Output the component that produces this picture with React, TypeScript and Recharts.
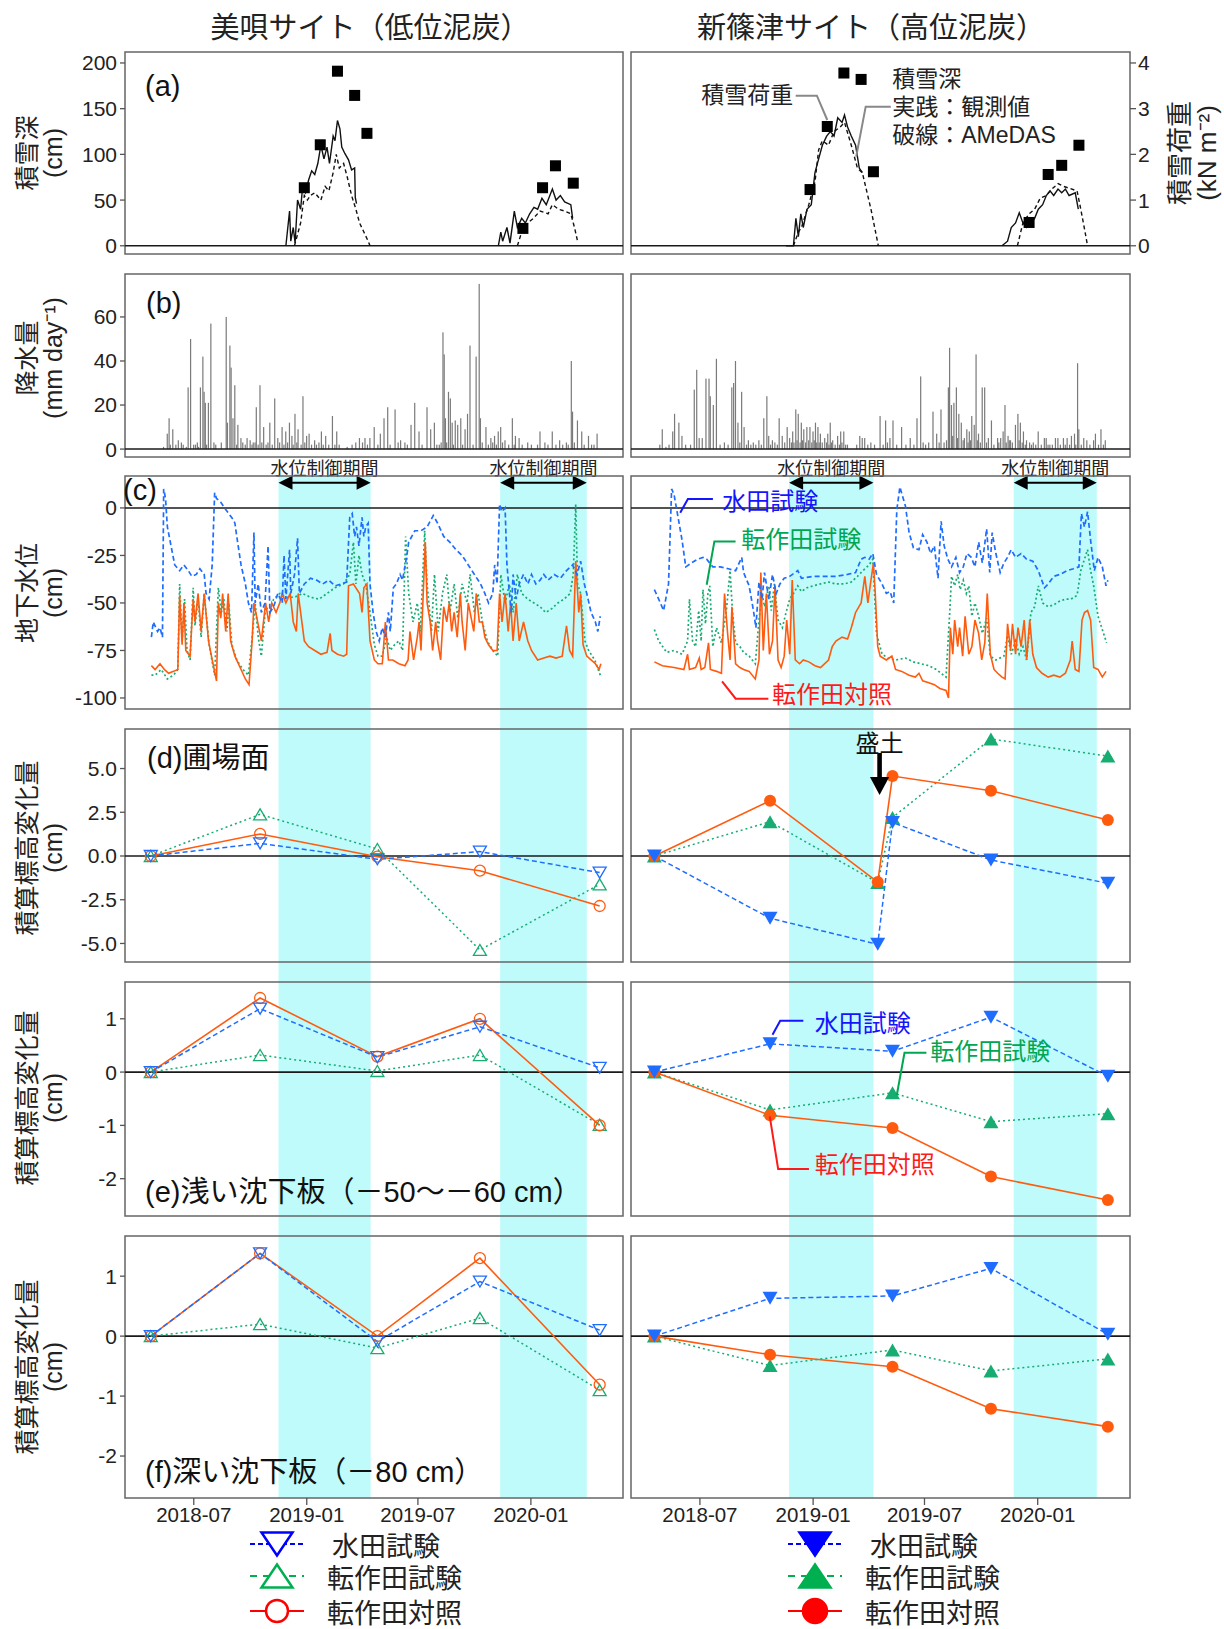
import React from 'react';
import { ComposedChart, Line, Bar, Scatter, XAxis, YAxis, ReferenceArea, ReferenceLine, ReferenceDot } from 'recharts';

const FONT = "'Liberation Sans', 'Noto Sans CJK JP', sans-serif";
const JP = "'Noto Sans CJK JP', sans-serif";

const BLUE = '#1f6dff';
const GREEN = '#17ad72';
const ORANGE = '#ff5b0f';
const CYAN = '#bffbfb';

// x axis = days since 2018-07-01
const X_DOMAIN: [number, number] = [-112, 699];
const DATE_TICKS = [0, 184, 365, 549];
const DATE_LABELS = ['2018-07', '2019-01', '2019-07', '2020-01'];
// the tick marks of (a)(b) sit a little to the right in the original figure
const TOP_TICKS = [43, 221, 399, 576];

// water level control periods
const CONTROL_L: [number, number][] = [[138, 288], [499, 640]];
const CONTROL_R: [number, number][] = [[145, 282], [510, 645]];

// (a) snow depth (cm): observed and AMeDAS; snow load (kN m-2)
const SNOW_L_OBS: [number, number | null][] = [[150,0],[156,38],[158,5],[162,20],[165,3],[169,50],[174,40],[177,63],[182,58],[187,72],[192,82],[197,78],[202,90],[207,110],[212,95],[217,108],[221,90],[227,120],[230,115],[234,137],[238,128],[241,108],[246,101],[252,94],[257,83],[262,85],[263,53],[265,46],[266,null],[496,0],[500,15],[503,5],[510,20],[515,3],[522,38],[527,20],[534,30],[540,25],[547,35],[554,42],[560,40],[567,52],[574,45],[584,62],[590,50],[597,55],[604,48],[614,45],[617,30]];
const SNOW_L_AMEDAS: [number, number | null][] = [[164,0],[174,25],[180,55],[185,50],[190,55],[197,58],[207,50],[214,65],[220,60],[227,80],[232,100],[237,85],[244,90],[250,75],[257,55],[264,40],[270,25],[277,15],[284,5],[287,0],[288,null],[527,0],[534,15],[544,25],[553,30],[564,38],[577,35],[584,45],[594,40],[604,38],[614,35],[620,20],[625,5]];
const LOAD_L: [number, number][] = [[180,1.27],[206,2.21],[234,3.82],[262,3.29],[282,2.46],[536,0.38],[568,1.27],[589,1.75],[618,1.37]];

const SNOW_R_OBS: [number, number | null][] = [[140,0],[152,0],[156,30],[160,10],[164,35],[168,20],[174,40],[181,45],[187,80],[193,95],[199,110],[206,120],[212,125],[218,120],[224,140],[231,135],[235,143],[240,130],[246,120],[253,110],[259,85],[264,80],[265,null],[491,0],[500,5],[506,20],[513,25],[519,36],[525,25],[531,20],[538,25],[544,30],[550,40],[557,45],[563,55],[569,60],[575,55],[582,62],[588,58],[594,62],[600,55],[610,58],[615,40]];
const SNOW_R_AMEDAS: [number, number | null][] = [[152,0],[160,15],[165,20],[177,45],[187,70],[193,105],[199,115],[209,110],[218,125],[228,130],[235,135],[246,110],[256,85],[264,80],[271,60],[278,40],[284,20],[290,0],[291,null],[516,0],[525,25],[535,35],[544,40],[553,52],[563,55],[572,62],[582,68],[591,65],[600,63],[613,60],[619,40],[626,15],[630,0]];
const LOAD_R: [number, number][] = [[179,1.23],[207,2.61],[234,3.78],[262,3.64],[282,1.62],[535,0.51],[566,1.56],[588,1.76],[616,2.2]];

// (b) daily precipitation (mm/day)
const PRECIP_L: [number, number][] = [[-49,1],[-43,7],[-40,14],[-38,2],[-34,9],[-29,2],[-25,4],[-20,3],[-17,2],[-12,1],[-9,28],[-5,50],[0,2],[3,2],[6,3],[8,1],[11,28],[15,42],[17,26],[19,21],[21,2],[24,21],[28,57],[33,3],[36,2],[45,3],[53,60],[55,12],[59,47],[61,37],[64,14],[67,29],[70,2],[72,11],[77,5],[80,3],[84,2],[87,5],[92,4],[95,2],[97,3],[100,3],[102,19],[105,2],[108,29],[111,3],[114,10],[118,2],[121,3],[124,12],[128,2],[132,23],[137,5],[140,3],[144,10],[147,2],[150,8],[153,3],[156,12],[160,6],[162,2],[165,16],[168,3],[170,9],[175,2],[178,24],[181,3],[184,6],[188,7],[192,2],[197,4],[200,2],[204,3],[208,8],[211,2],[215,6],[220,2],[226,15],[230,2],[233,8],[237,2],[250,1],[258,2],[264,3],[270,5],[275,3],[279,5],[283,2],[287,5],[294,10],[300,2],[304,7],[310,14],[316,19],[320,2],[328,18],[333,3],[337,4],[344,3],[348,2],[354,11],[360,21],[367,8],[372,2],[380,19],[386,9],[392,12],[396,2],[400,2],[403,3],[406,53],[408,43],[410,14],[412,3],[415,26],[418,23],[421,12],[423,2],[426,13],[430,11],[435,14],[438,2],[442,9],[446,16],[450,47],[455,2],[460,42],[465,75],[467,14],[470,3],[476,10],[480,2],[484,5],[487,3],[490,6],[493,2],[496,8],[500,10],[503,3],[507,4],[513,2],[519,14],[522,2],[524,6],[530,5],[535,2],[544,3],[550,2],[560,2],[564,8],[572,3],[577,2],[584,8],[590,2],[596,4],[601,2],[607,3],[610,2],[615,40],[617,17],[620,3],[625,13],[632,8],[636,2],[643,6],[648,2],[652,2],[657,7]];
const PRECIP_R: [number, number][] = [[-65,2],[-61,9],[-55,1],[-50,2],[-44,8],[-41,16],[-34,12],[-29,6],[-23,2],[-15,2],[-9,27],[-5,36],[-1,5],[4,5],[10,32],[15,32],[17,24],[22,20],[27,41],[33,2],[40,3],[46,2],[52,28],[55,30],[58,40],[62,12],[65,3],[68,26],[72,10],[76,2],[79,4],[83,2],[87,3],[91,2],[96,4],[100,2],[104,14],[109,24],[112,6],[115,2],[118,4],[122,3],[126,2],[129,14],[134,6],[138,3],[142,10],[146,5],[149,3],[151,8],[153,3],[156,18],[158,4],[160,16],[163,3],[165,12],[167,4],[169,9],[172,3],[174,10],[177,4],[179,10],[182,3],[184,8],[186,4],[188,12],[190,3],[192,10],[194,3],[196,7],[199,3],[203,5],[206,3],[208,7],[210,2],[212,12],[214,3],[216,4],[220,2],[224,6],[227,2],[229,8],[231,3],[234,8],[237,2],[240,2],[255,2],[260,6],[264,5],[268,5],[273,2],[278,3],[284,2],[293,15],[298,2],[302,13],[305,3],[309,5],[314,13],[320,2],[328,10],[335,2],[342,5],[348,2],[353,14],[359,33],[363,3],[367,2],[372,3],[379,17],[385,7],[389,3],[392,18],[397,3],[401,4],[404,28],[406,46],[409,20],[411,6],[413,21],[417,28],[419,5],[421,16],[425,12],[428,4],[430,5],[434,9],[436,3],[438,8],[440,4],[442,15],[446,11],[449,43],[451,4],[453,7],[456,3],[459,28],[463,28],[466,3],[469,5],[474,13],[478,2],[484,5],[486,3],[489,5],[493,8],[496,20],[498,3],[501,6],[503,4],[505,4],[508,3],[513,11],[517,16],[519,4],[521,12],[524,3],[526,8],[529,2],[531,4],[536,3],[539,2],[542,3],[546,2],[550,8],[555,2],[560,5],[563,5],[566,2],[569,2],[573,2],[578,5],[582,5],[586,2],[591,5],[594,2],[597,5],[601,2],[604,6],[609,7],[611,2],[614,39],[616,9],[620,2],[624,5],[629,4],[634,2],[640,4],[643,7],[648,2],[652,9],[656,2],[659,4]];

// (c) groundwater level (cm)
const GW_L_PADDY: [number, number][] = [[-69,-68],[-66,-60],[-59,-65],[-55,-63],[-51,-68],[-49,10],[-46,5],[-43,-10],[-37,-20],[-31,-30],[-23,-33],[-16,-30],[-9,-33],[-3,-36],[4,-35],[10,-32],[17,-35],[20,-45],[25,-48],[30,-30],[34,8],[37,5],[44,3],[50,0],[57,-3],[64,-6],[67,-8],[70,-15],[77,-30],[84,-40],[89,-50],[94,-55],[98,-13],[100,-50],[105,-40],[110,-55],[116,-50],[121,-20],[124,-55],[130,-52],[137,-45],[144,-50],[147,-25],[150,-48],[156,-22],[158,-45],[164,-35],[169,-16],[172,-45],[180,-40],[190,-37],[200,-38],[210,-40],[220,-38],[230,-41],[240,-40],[249,-39],[254,-5],[258,-3],[262,-15],[265,-10],[269,-20],[274,-5],[277,-15],[280,-10],[284,-8],[287,-40],[292,-55],[297,-65],[302,-70],[307,-63],[312,-68],[317,-55],[320,-65],[325,-42],[330,-40],[336,-35],[340,-38],[347,-25],[350,-18],[360,-12],[370,-12],[380,-10],[390,-4],[397,-8],[407,-15],[417,-18],[427,-22],[437,-25],[447,-30],[457,-35],[467,-40],[474,-45],[480,-50],[487,-45],[490,-30],[494,-40],[498,2],[502,-2],[507,0],[510,-30],[514,-45],[517,-55],[520,-35],[525,-48],[530,-40],[537,-35],[544,-40],[550,-35],[557,-40],[564,-38],[570,-35],[577,-38],[587,-35],[597,-37],[607,-33],[617,-30],[624,-35],[630,-28],[636,-40],[640,-45],[647,-55],[654,-60],[658,-65],[662,-57]];
const GW_L_CONV: [number, number][] = [[-69,-88],[-63,-88],[-53,-85],[-43,-90],[-33,-88],[-26,-85],[-23,-40],[-19,-70],[-15,-48],[-11,-75],[-6,-80],[-1,-42],[2,-62],[7,-48],[12,-68],[17,-45],[25,-72],[34,-88],[40,-42],[45,-55],[49,-48],[54,-65],[57,-50],[62,-72],[70,-80],[80,-85],[89,-88],[96,-65],[100,-50],[105,-68],[110,-78],[117,-52],[124,-55],[130,-48],[140,-45],[150,-47],[164,-47],[177,-45],[190,-47],[204,-48],[217,-45],[230,-42],[244,-40],[254,-35],[260,-18],[264,-40],[269,-25],[274,-35],[280,-40],[287,-55],[294,-72],[300,-78],[307,-78],[314,-68],[320,-75],[327,-72],[334,-70],[340,-75],[345,-15],[350,-45],[357,-60],[364,-50],[369,-65],[376,-12],[380,-40],[387,-65],[392,-35],[398,-65],[405,-45],[412,-35],[417,-55],[424,-40],[430,-58],[437,-40],[445,-50],[450,-35],[457,-55],[463,-45],[470,-60],[478,-70],[487,-75],[495,-78],[500,-35],[507,-50],[514,-40],[520,-55],[527,-35],[534,-45],[544,-48],[554,-50],[564,-52],[573,-55],[583,-53],[593,-50],[603,-48],[613,-45],[618,-35],[622,2],[625,-40],[630,-45],[637,-70],[643,-75],[653,-80],[662,-88]];
const GW_L_CTRL: [number, number][] = [[-69,-83],[-63,-85],[-55,-82],[-48,-85],[-41,-87],[-33,-86],[-26,-85],[-23,-46],[-19,-72],[-16,-50],[-13,-75],[-6,-78],[-1,-48],[2,-60],[7,-45],[12,-65],[17,-45],[24,-70],[30,-80],[37,-91],[40,-50],[44,-58],[47,-45],[52,-65],[56,-45],[60,-70],[67,-78],[77,-85],[84,-90],[90,-93],[95,-70],[98,-50],[104,-60],[110,-70],[117,-50],[122,-60],[127,-50],[134,-55],[140,-50],[144,-45],[150,-50],[157,-45],[162,-60],[167,-65],[170,-45],[176,-60],[180,-70],[187,-73],[197,-75],[207,-77],[217,-76],[222,-66],[225,-75],[234,-77],[244,-78],[249,-77],[252,-41],[260,-40],[270,-45],[274,-55],[277,-42],[282,-40],[287,-70],[294,-80],[300,-82],[307,-82],[312,-60],[317,-80],[324,-80],[334,-82],[344,-83],[349,-80],[352,-65],[358,-80],[364,-68],[367,-60],[370,-75],[377,-18],[380,-50],[385,-60],[389,-75],[394,-60],[397,-70],[402,-80],[407,-52],[412,-60],[416,-50],[420,-65],[424,-55],[429,-68],[434,-45],[437,-60],[442,-75],[447,-50],[450,-55],[456,-65],[460,-45],[465,-60],[470,-60],[474,-68],[480,-72],[487,-75],[494,-75],[498,-45],[502,-60],[507,-45],[512,-65],[516,-50],[520,-70],[525,-50],[530,-70],[537,-60],[544,-70],[550,-75],[560,-80],[570,-79],[580,-78],[590,-79],[600,-78],[607,-62],[612,-75],[617,-78],[622,-28],[627,-55],[630,-45],[634,-72],[640,-78],[647,-80],[654,-82],[660,-85],[663,-82]];

const GW_R_PADDY: [number, number][] = [[-74,-43],[-67,-48],[-59,-54],[-51,-40],[-46,10],[-42,7],[-36,-4],[-29,-17],[-23,-31],[-14,-29],[-4,-27],[5,-26],[11,-27],[21,-31],[33,-31],[46,-32],[58,-33],[68,-26],[71,-34],[80,-41],[87,-54],[91,-63],[96,-39],[101,-48],[105,-34],[112,-48],[118,-35],[124,-45],[130,-40],[137,-37],[146,-36],[159,-33],[165,-37],[184,-36],[203,-36],[221,-36],[240,-35],[253,-34],[262,-27],[268,-26],[275,-27],[281,-24],[287,-35],[296,-40],[303,-45],[309,-44],[315,-50],[320,-1],[325,11],[334,1],[340,-13],[347,-21],[356,-22],[362,-14],[369,-18],[375,-24],[381,-20],[387,-37],[392,-7],[397,-20],[403,-27],[409,-31],[416,-26],[422,-34],[428,-31],[434,-24],[441,-26],[447,-31],[453,-18],[459,-29],[466,-11],[471,-34],[475,-13],[481,-24],[488,-34],[494,-29],[500,-26],[506,-22],[513,-26],[522,-24],[531,-27],[541,-28],[550,-33],[560,-42],[566,-40],[575,-36],[585,-35],[597,-33],[607,-32],[616,-31],[620,-3],[625,-10],[630,-2],[635,-17],[641,-33],[647,-26],[654,-31],[660,-41],[663,-38]];
const GW_R_CONV: [number, number][] = [[-74,-64],[-67,-70],[-54,-76],[-42,-75],[-29,-77],[-20,-70],[-17,-48],[-12,-70],[-7,-73],[-2,-54],[2,-70],[5,-43],[9,-61],[13,-45],[16,-41],[21,-73],[27,-63],[35,-71],[43,-54],[49,-33],[53,-55],[58,-71],[65,-73],[71,-76],[80,-78],[90,-82],[96,-59],[101,-45],[105,-52],[112,-41],[116,-54],[121,-40],[127,-59],[134,-63],[140,-55],[146,-48],[152,-45],[159,-41],[165,-44],[174,-42],[184,-41],[196,-40],[209,-39],[221,-40],[234,-40],[246,-39],[256,-36],[265,-33],[275,-30],[281,-27],[287,-66],[296,-77],[306,-79],[318,-80],[334,-79],[347,-81],[359,-82],[372,-83],[384,-85],[400,-89],[406,-55],[409,-36],[414,-41],[419,-35],[423,-43],[428,-38],[433,-45],[437,-41],[442,-57],[447,-50],[453,-57],[459,-66],[466,-58],[472,-78],[481,-80],[494,-78],[500,-67],[506,-77],[513,-70],[519,-77],[525,-73],[531,-80],[538,-55],[544,-52],[550,-41],[557,-50],[566,-52],[575,-51],[585,-49],[594,-48],[603,-48],[613,-46],[619,-33],[625,-27],[630,-22],[635,-33],[640,-41],[647,-57],[654,-64],[661,-71]];
const GW_R_CTRL: [number, number][] = [[-74,-81],[-61,-83],[-42,-84],[-26,-85],[-20,-77],[-17,-85],[-7,-84],[-1,-79],[2,-85],[8,-84],[14,-71],[17,-85],[27,-86],[35,-87],[40,-45],[45,-66],[49,-80],[52,-52],[58,-82],[65,-84],[71,-85],[80,-86],[90,-90],[96,-80],[99,-34],[103,-75],[108,-45],[113,-77],[118,-70],[122,-41],[127,-80],[132,-84],[137,-78],[141,-59],[146,-77],[150,-38],[155,-80],[162,-82],[168,-80],[177,-81],[187,-83],[196,-84],[209,-80],[215,-73],[221,-70],[231,-68],[240,-69],[246,-63],[253,-55],[262,-50],[268,-36],[273,-50],[278,-38],[282,-29],[285,-45],[289,-73],[293,-78],[303,-80],[312,-78],[318,-85],[328,-86],[340,-88],[350,-89],[356,-87],[362,-91],[372,-92],[381,-93],[390,-95],[400,-96],[404,-100],[407,-63],[411,-77],[414,-59],[419,-73],[422,-63],[427,-78],[431,-57],[437,-77],[442,-73],[447,-59],[453,-66],[458,-80],[463,-71],[467,-45],[472,-77],[478,-85],[484,-87],[491,-89],[496,-90],[500,-61],[505,-75],[508,-61],[513,-77],[517,-63],[522,-73],[527,-59],[531,-80],[536,-59],[541,-77],[547,-84],[556,-87],[566,-89],[575,-88],[585,-89],[594,-87],[602,-80],[605,-70],[610,-85],[616,-86],[621,-59],[625,-55],[630,-54],[635,-59],[640,-84],[647,-85],[654,-89],[660,-86]];

// (d)(e)(f) survey dates and cumulative elevation change (cm)
const SURVEY_L = [-70, 108, 299, 466, 661];
const SURVEY_R = [-74, 114, 313, 473, 663];
const SURVEY_R_D = [-74, 114, 289, 313, 473, 663]; // before / after embankment

const D_L_PADDY = [0, 0.72, -0.19, 0.25, -0.95];
const D_L_CONV = [0, 2.38, 0.4, -5.37, -1.62];
const D_L_CTRL = [0, 1.26, -0.04, -0.84, -2.86];
const D_R_PADDY = [0, -3.56, -5.05, 1.92, -0.23, -1.56];
const D_R_CONV = [0, 1.96, -1.52, 2.2, 6.69, 5.71];
const D_R_CTRL = [0, 3.16, -1.49, 4.57, 3.73, 2.06];

const E_L_PADDY = [0, 1.19, 0.28, 0.85, 0.08];
const E_L_CONV = [0, 0.32, 0.02, 0.32, -0.99];
const E_L_CTRL = [0, 1.39, 0.29, 1.0, -1.0];
const E_R_PADDY = [0, 0.53, 0.39, 1.03, -0.08];
const E_R_CONV = [0, -0.71, -0.39, -0.93, -0.78];
const E_R_CTRL = [0, -0.81, -1.05, -1.96, -2.4];

const F_L_PADDY = [0, 1.38, -0.09, 0.91, 0.1];
const F_L_CONV = [0, 0.2, -0.2, 0.3, -0.9];
const F_L_CTRL = [0, 1.38, 0.0, 1.3, -0.81];
const F_R_PADDY = [0, 0.63, 0.67, 1.13, 0.03];
const F_R_CONV = [0, -0.49, -0.23, -0.58, -0.38];
const F_R_CTRL = [0, -0.31, -0.51, -1.21, -1.51];

const LEGEND_NAMES = ['水田試験', '転作田試験', '転作田対照'];

const rows = (pairs: [number, number | null][]) => pairs.map(([d, v]) => ({ d, v }));
const survey = (days: number[], vals: number[]) => days.map((d, i) => ({ d, v: vals[i] }));

// panel geometry (page px)
const G: any = {
  a: { top: 40, h: 224, mt: 12, xh: 10, dom: [-9, 212], ticks: [0, 50, 100, 150, 200] },
  b: { top: 264, h: 203, mt: 10, xh: 10, dom: [-3.6, 79.5], ticks: [0, 20, 40, 60] },
  c: { top: 446, h: 273, mt: 30, xh: 10, dom: [-105.8, 16.8], ticks: [0, -25, -50, -75, -100] },
  d: { top: 709, h: 263, mt: 20, xh: 10, dom: [-6.06, 7.26], ticks: [5, 2.5, 0, -2.5, -5], fmt: (v: number) => v.toFixed(1) },
  e: { top: 962, h: 264, mt: 20, xh: 10, dom: [-2.7, 1.69], ticks: [1, 0, -1, -2] },
  f: { top: 1216, h: 322, mt: 20, xh: 40, dom: [-2.7, 1.67], ticks: [1, 0, -1, -2] },
};
const KN_DOMAIN: [number, number] = [-9 / 50, 212 / 50];

const bandShape = (ext: number) => (p: any) => (
  <rect x={p.x} y={p.y - ext} width={p.width} height={p.height + ext} fill={CYAN} />
);

const frameShape = (p: any) => (
  <rect x={p.x} y={p.y} width={p.width} height={p.height} fill="none" stroke="#666" strokeWidth={1.5} />
);

const periodArrow = (p: any) => {
  const y = p.y + p.height / 2;
  const x1 = p.x;
  const x2 = p.x + p.width;
  return (
    <g>
      <line x1={x1 + 8} x2={x2 - 8} y1={y} y2={y} stroke="#000" strokeWidth={2} />
      <polygon points={`${x1},${y} ${x1 + 14},${y - 7} ${x1 + 14},${y + 7}`} fill="#000" />
      <polygon points={`${x2},${y} ${x2 - 14},${y - 7} ${x2 - 14},${y + 7}`} fill="#000" />
      <text x={(x1 + x2) / 2} y={y - 16} textAnchor="middle" dominantBaseline="central" fontSize={18} fontFamily={JP} fill="#222">水位制御期間</text>
    </g>
  );
};

const precipShape = (p: any) => {
  if (p.height == null || isNaN(p.x) || isNaN(p.y)) return <g />;
  const cx = p.x + (p.width || 0) / 2;
  return <rect x={cx - 0.6} y={p.y} width={1.2} height={Math.max(p.height, 0)} fill="#7a7a7a" />;
};

const squareShape = (p: any) => <rect x={p.cx - 5.5} y={p.cy - 5.5} width={11} height={11} fill="#000" />;

const marker = (kind: string, color: string, filled: boolean) => (p: any) => {
  const { cx, cy, index } = p;
  if (cx == null || cy == null) return <g key={index} />;
  const fill = filled ? color : 'none';
  const sw = filled ? 0 : 1.3;
  if (kind === 'circle') return <circle key={index} cx={cx} cy={cy} r={filled ? 6 : 5.5} fill={fill} stroke={color} strokeWidth={sw} />;
  const w = filled ? 15 : 13;
  const h = filled ? 13 : 11;
  const pts = kind === 'down'
    ? `${cx - w / 2},${cy - h / 2} ${cx + w / 2},${cy - h / 2} ${cx},${cy + h / 2}`
    : `${cx - w / 2},${cy + h / 2} ${cx + w / 2},${cy + h / 2} ${cx},${cy - h / 2}`;
  return <polygon key={index} points={pts} fill={fill} stroke={color} strokeWidth={sw} />;
};

function Callout({ cx, cy, path, texts, color, line, size = 24, anchor = 'start' }: any) {
  const d = path.map(([dx, dy]: number[], i: number) => `${i ? 'L' : 'M'}${cx + dx},${cy + dy}`).join(' ');
  return (
    <g>
      <path d={d} fill="none" stroke={line || color} strokeWidth={2} />
      {texts.map((t: any) => (
        <text key={t.s} x={cx + t.dx} y={cy + t.dy} fill={color} fontSize={size} fontFamily={FONT} textAnchor={anchor} dominantBaseline="central">{t.s}</text>
      ))}
    </g>
  );
}

const callout = (x: number, y: number, cfg: any, yAxisId: any = 0) => (
  <ReferenceDot key={`co${x}_${y}`} x={x} y={y} yAxisId={yAxisId} ifOverflow="visible" shape={(p: any) => <Callout cx={p.cx} cy={p.cy} {...cfg} />} />
);

const embankShape = (p: any) => {
  const { cx, cy } = p;
  return (
    <g>
      <rect x={cx - 2.3} y={cy - 42} width={4.6} height={26} fill="#000" />
      <polygon points={`${cx},${cy} ${cx - 9.6},${cy - 18} ${cx + 9.6},${cy - 18}`} fill="#000" />
      <text x={cx} y={cy - 53} textAnchor="middle" dominantBaseline="central" fontSize={24} fontFamily={JP} fill="#111">盛土</text>
    </g>
  );
};

const lineProps = { dot: false, activeDot: false, isAnimationActive: false, connectNulls: false, type: 'linear' as const };

const snowSeries = (obs: any, amedas: any, load: any) => [
  <Line key="obs" data={rows(obs)} dataKey="v" stroke="#111" strokeWidth={1.4} {...lineProps} />,
  <Line key="am" data={rows(amedas)} dataKey="v" stroke="#111" strokeWidth={1.4} strokeDasharray="4 3" {...lineProps} />,
  <Scatter key="load" yAxisId="kn" data={rows(load)} dataKey="v" shape={squareShape} isAnimationActive={false} />,
];

const gwSeries = (paddy: any, conv: any, ctrl: any) => [
  <Line key="conv" data={rows(conv)} dataKey="v" stroke={GREEN} strokeWidth={1.7} strokeDasharray="2 2.5" {...lineProps} />,
  <Line key="ctrl" data={rows(ctrl)} dataKey="v" stroke={ORANGE} strokeWidth={1.6} {...lineProps} />,
  <Line key="paddy" data={rows(paddy)} dataKey="v" stroke={BLUE} strokeWidth={1.7} strokeDasharray="5 3" {...lineProps} />,
];

const elevSeries = (days: number[], paddy: number[], conv: number[], ctrl: number[], filled: boolean) => [
  <Line key="conv" data={survey(days, conv)} dataKey="v" stroke={GREEN} strokeWidth={1.5} strokeDasharray="2 3" dot={marker('up', GREEN, filled)} activeDot={false} isAnimationActive={false} />,
  <Line key="ctrl" data={survey(days, ctrl)} dataKey="v" stroke={ORANGE} strokeWidth={1.6} dot={marker('circle', ORANGE, filled)} activeDot={false} isAnimationActive={false} />,
  <Line key="paddy" data={survey(days, paddy)} dataKey="v" stroke={BLUE} strokeWidth={1.5} strokeDasharray="5 3" dot={marker('down', BLUE, filled)} activeDot={false} isAnimationActive={false} />,
];

function Panel({ side, g, z, data, xTicks = DATE_TICKS, xLabels = false, kn = false, bands = null, bandExt = 0, arrows = false, children }: any) {
  const L = side === 'L';
  const width = L ? 630 : 624;
  const margin = L
    ? { top: g.mt, right: 7, bottom: 0, left: 0 }
    : { top: g.mt, right: kn ? 0 : 94, bottom: 0, left: 31 };
  const tickLine = { stroke: '#555', strokeWidth: 1.3 };
  return (
    <div style={{ position: 'absolute', left: L ? 0 : 600, top: g.top, width, height: g.h, zIndex: z }}>
      <ComposedChart width={width} height={g.h} margin={margin} data={data}>
        <XAxis type="number" dataKey="d" domain={X_DOMAIN} allowDataOverflow ticks={xTicks} interval={0}
          height={g.xh} axisLine={false} tickLine={tickLine} tickSize={7} tickMargin={2}
          tick={xLabels ? { fill: '#222', fontSize: 20.5 } : false}
          tickFormatter={(v: number) => DATE_LABELS[DATE_TICKS.indexOf(v)] ?? ''} />
        <YAxis type="number" domain={g.dom} allowDataOverflow ticks={g.ticks} interval={0} hide={!L} width={125}
          axisLine={false} tickLine={tickLine} tickSize={5} tickMargin={3}
          tick={{ fill: '#222', fontSize: 21 }} tickFormatter={g.fmt || ((v: number) => String(v))} />
        {kn && (
          <YAxis yAxisId="kn" orientation="right" type="number" domain={KN_DOMAIN} allowDataOverflow
            ticks={[0, 1, 2, 3, 4]} interval={0} hide={L} width={94} axisLine={false} tickLine={tickLine}
            tickSize={6} tickMargin={2} tick={{ fill: '#222', fontSize: 21 }} />
        )}
        {bands && bands.map(([a, b]: number[]) => (
          <ReferenceArea key={`band${a}`} x1={a} x2={b} ifOverflow="visible" shape={bandShape(bandExt)} />
        ))}
        {arrows && bands.map(([a, b]: number[]) => (
          <ReferenceArea key={`arr${a}`} x1={a} x2={b} y1={10} y2={16.6} ifOverflow="visible" shape={periodArrow} />
        ))}
        <ReferenceLine y={0} stroke="#1a1a1a" strokeWidth={1.6} />
        {children}
        <ReferenceArea x1={X_DOMAIN[0]} x2={X_DOMAIN[1]} y1={g.dom[0]} y2={g.dom[1]} ifOverflow="visible" shape={frameShape} />
      </ComposedChart>
    </div>
  );
}

function LegendBlock({ x, filled, colors }: any) {
  const rowsY = [19, 51, 86];
  const kinds = ['down', 'up', 'circle'];
  const dashes = ['5 3', '7 6', undefined];
  const textX = [x + 82, x + 77, x + 77];
  return (
    <g>
      {rowsY.map((y, i) => {
        const c = colors[i];
        const cx = x + 27;
        let m;
        if (kinds[i] === 'circle') m = <circle cx={cx} cy={y} r={filled ? 12 : 11} fill={filled ? c : '#fff'} stroke={c} strokeWidth={2.5} />;
        else {
          const w = 31, h = 23;
          const pts = kinds[i] === 'down'
            ? `${cx - w / 2},${y - h / 2} ${cx + w / 2},${y - h / 2} ${cx},${y + h / 2}`
            : `${cx - w / 2},${y + h / 2} ${cx + w / 2},${y + h / 2} ${cx},${y - h / 2}`;
          m = <polygon points={pts} fill={filled ? c : '#fff'} stroke={c} strokeWidth={2.5} />;
        }
        return (
          <g key={i}>
            <line x1={x} x2={x + 54} y1={y} y2={y} stroke={c} strokeWidth={2} strokeDasharray={dashes[i]} />
            {m}
            <text x={textX[i]} y={y} dominantBaseline="central" fontSize={27} fontFamily={JP} fill="#222">{LEGEND_NAMES[i]}</text>
          </g>
        );
      })}
    </g>
  );
}

const VText = ({ x, y, s, size = 25 }: any) => (
  <text transform={`translate(${x},${y}) rotate(-90)`} textAnchor="middle" dominantBaseline="central" fontSize={size} fontFamily={FONT} fill="#222">{s}</text>
);

export default function App() {
  const leftLabels: [number, string, string][] = [
    [153, '積雪深', '(cm)'],
    [358, '降水量', '(mm day⁻¹)'],
    [593, '地下水位', '(cm)'],
    [848, '積算標高変化量', '(cm)'],
    [1098, '積算標高変化量', '(cm)'],
    [1367, '積算標高変化量', '(cm)'],
  ];
  const legendColors = ['#0000ff', '#00b050', '#ff0000'];
  return (
    <div style={{ position: 'absolute', left: 0, top: 0, width: 1224, height: 1629, background: '#fff', fontFamily: FONT, overflow: 'hidden' }}>
      {/* 美唄 */}
      <Panel side="L" g={G.a} z={60} xTicks={TOP_TICKS} kn>
        {snowSeries(SNOW_L_OBS, SNOW_L_AMEDAS, LOAD_L)}
      </Panel>
      <Panel side="L" g={G.b} z={50} xTicks={TOP_TICKS} data={rows(PRECIP_L)}>
        <Bar dataKey="v" barSize={1} shape={precipShape} isAnimationActive={false} />
      </Panel>
      <Panel side="L" g={G.c} z={40} bands={CONTROL_L} arrows>
        {gwSeries(GW_L_PADDY, GW_L_CONV, GW_L_CTRL)}
      </Panel>
      <Panel side="L" g={G.d} z={30} bands={CONTROL_L} bandExt={20}>
        {elevSeries(SURVEY_L, D_L_PADDY, D_L_CONV, D_L_CTRL, false)}
      </Panel>
      <Panel side="L" g={G.e} z={20} bands={CONTROL_L} bandExt={20}>
        {elevSeries(SURVEY_L, E_L_PADDY, E_L_CONV, E_L_CTRL, false)}
      </Panel>
      <Panel side="L" g={G.f} z={10} bands={CONTROL_L} bandExt={20} xLabels>
        {elevSeries(SURVEY_L, F_L_PADDY, F_L_CONV, F_L_CTRL, false)}
      </Panel>

      {/* 新篠津 */}
      <Panel side="R" g={G.a} z={61} xTicks={TOP_TICKS} kn>
        {snowSeries(SNOW_R_OBS, SNOW_R_AMEDAS, LOAD_R)}
        {callout(207, 137.6, { path: [[0, 0], [-10.4, -24.3], [-31.6, -24.3]], texts: [{ s: '積雪荷重', dx: -34, dy: -25 }], color: '#222', line: '#888', size: 23, anchor: 'end' })}
        {callout(254, 97.5, { path: [[0, 0], [9.5, -50], [34.6, -50]], texts: [{ s: '積雪深', dx: 36, dy: -78 }, { s: '実践：観測値', dx: 36, dy: -50 }, { s: '破線：AMeDAS', dx: 36, dy: -22 }], color: '#222', line: '#888', size: 23 })}
      </Panel>
      <Panel side="R" g={G.b} z={51} xTicks={TOP_TICKS} data={rows(PRECIP_R)}>
        <Bar dataKey="v" barSize={1} shape={precipShape} isAnimationActive={false} />
      </Panel>
      <Panel side="R" g={G.c} z={41} bands={CONTROL_R} arrows>
        {gwSeries(GW_R_PADDY, GW_R_CONV, GW_R_CTRL)}
        {callout(-32, -2.5, { path: [[0, 0], [7.7, -13.7], [32.7, -13.7]], texts: [{ s: '水田試験', dx: 42, dy: -11 }], color: '#1414ff' })}
        {callout(11, -40.4, { path: [[0, 0], [7.7, -43.3], [28.9, -43.3]], texts: [{ s: '転作田試験', dx: 34.6, dy: -45 }], color: '#00a651' })}
        {callout(36, -91.3, { path: [[0, 0], [13.6, 17.3], [46.3, 17.3]], texts: [{ s: '転作田対照', dx: 50, dy: 13.3 }], color: '#ff1a1a' })}
      </Panel>
      <Panel side="R" g={G.d} z={31} bands={CONTROL_R} bandExt={20}>
        {elevSeries(SURVEY_R_D, D_R_PADDY, D_R_CONV, D_R_CTRL, true)}
        <ReferenceDot x={292} y={3.49} ifOverflow="visible" shape={embankShape} />
      </Panel>
      <Panel side="R" g={G.e} z={21} bands={CONTROL_R} bandExt={20}>
        {elevSeries(SURVEY_R, E_R_PADDY, E_R_CONV, E_R_CTRL, true)}
        {callout(118, 0.7, { path: [[0, 0], [7.7, -14], [30.8, -14]], texts: [{ s: '水田試験', dx: 42.3, dy: -11.7 }], color: '#1414ff' })}
        {callout(320, -0.43, { path: [[0, 0], [7.7, -42.3], [29.6, -42.3]], texts: [{ s: '転作田試験', dx: 33.4, dy: -43.3 }], color: '#00a651' })}
        {callout(113.5, -0.83, { path: [[0, 0], [8.4, 52.6], [39.2, 52.6]], texts: [{ s: '転作田対照', dx: 45, dy: 48.3 }], color: '#ff1a1a' })}
      </Panel>
      <Panel side="R" g={G.f} z={11} bands={CONTROL_R} bandExt={20} xLabels>
        {elevSeries(SURVEY_R, F_R_PADDY, F_R_CONV, F_R_CTRL, true)}
      </Panel>

      <svg width={1224} height={1629} style={{ position: 'absolute', left: 0, top: 0, zIndex: 100, pointerEvents: 'none' }}>
        <text x={370} y={25} textAnchor="middle" dominantBaseline="central" fontSize={29} fontFamily={JP} fill="#222">美唄サイト（低位泥炭）</text>
        <text x={871} y={25} textAnchor="middle" dominantBaseline="central" fontSize={29} fontFamily={JP} fill="#222">新篠津サイト（高位泥炭）</text>

        <text x={145} y={86} dominantBaseline="central" fontSize={29} fill="#111">(a)</text>
        <text x={146} y={303} dominantBaseline="central" fontSize={29} fill="#111">(b)</text>
        <text x={123} y={490} dominantBaseline="central" fontSize={29} fill="#111">(c)</text>
        <text x={147} y={758} dominantBaseline="central" fontSize={29} fill="#111">(d)圃場面</text>
        <text x={145} y={1192} dominantBaseline="central" fontSize={29} fill="#111">(e)浅い沈下板（－50～－60 cm）</text>
        <text x={145} y={1472} dominantBaseline="central" fontSize={29} fill="#111">(f)深い沈下板（－80 cm）</text>

        {leftLabels.map(([y, a, b], i) => (
          <g key={i}>
            <VText x={27} y={y} s={a} />
            <VText x={53} y={y} s={b} />
          </g>
        ))}
        <VText x={1180} y={153} s="積雪荷重" size={26} />
        <VText x={1207} y={153} s="(kN m⁻²)" size={26} />

        <g transform="translate(0,1525)">
          <LegendBlock x={250} filled={false} colors={legendColors} />
          <LegendBlock x={788} filled colors={legendColors} />
        </g>
      </svg>
    </div>
  );
}
